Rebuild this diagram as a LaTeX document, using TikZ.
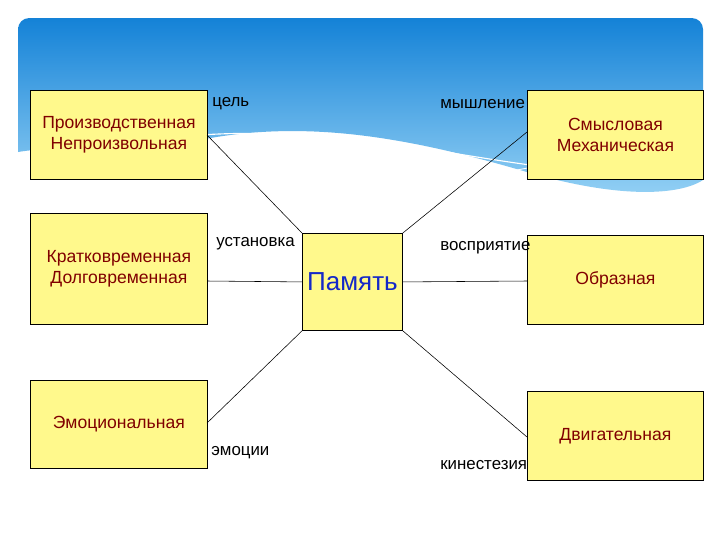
\documentclass[tikz,border=0pt]{standalone}
\usepackage{fontspec}
\setmainfont{Liberation Sans}
\begin{document}
\begin{tikzpicture}[x=0.025cm,y=-0.025cm,
  box/.style={draw=black,fill=yellow!45,line width=0.6pt,anchor=north west,inner sep=0pt,align=center,text=red!50!black,font=\fontsize{12.5}{14.5}\selectfont},
  lbl/.style={font=\fontsize{12}{13}\selectfont,text=black,inner sep=0pt},
  conn/.style={draw=black,line width=0.4pt}]
\useasboundingbox (0,0) rectangle (720,540);
\fill[white] (0,0) rectangle (720,540);
\shade[top color={rgb,255:red,20;green,130;blue,215},bottom color={rgb,255:red,150;green,210;blue,245}]
  (18,152) [rounded corners=8] -- (18,18) -- (703,18) [sharp corners] -- (703,180) .. controls (680,195) and (620,200) .. (520,170)
  .. controls (400,135) and (300,120) .. (200,140) .. controls (120,150) and (60,145) .. (18,152) -- cycle;
\draw[white,line width=0.8pt] (150,140) .. controls (300,120) and (420,150) .. (530,165) .. controls (600,175) and (650,180) .. (703,178);
\draw[white,line width=0.6pt] (450,185) .. controls (550,160) and (630,150) .. (703,160);
\node[box,text width=177*0.025cm,minimum height=89*0.025cm] (l1) at (30,90) {Производственная\\Непроизвольная};
\node[box,text width=177*0.025cm,minimum height=111*0.025cm] (l2) at (30,213) {Кратковременная\\Долговременная};
\node[box,text width=177*0.025cm,minimum height=88*0.025cm] (l3) at (30,380) {Эмоциональная};
\node[box,text width=100*0.025cm,minimum height=97*0.025cm,text={rgb,255:red,20;green,40;blue,200},font=\fontsize{18.5}{20}\selectfont] (c) at (302,233) {Память};
\node[box,text width=176*0.025cm,minimum height=89*0.025cm] (r1) at (527,90) {Смысловая\\Механическая};
\node[box,text width=176*0.025cm,minimum height=89*0.025cm] (r2) at (527,235) {Образная};
\node[box,text width=176*0.025cm,minimum height=89*0.025cm] (r3) at (527,391) {Двигательная};
\coordinate (a1) at (207,135); \coordinate (b1) at (527,132);
\coordinate (a2) at (207,281); \coordinate (b2) at (527,281);
\coordinate (a3) at (207,423); \coordinate (b3) at (527,437);
\draw[conn] (a1) -- (c.north west);
\draw[conn] (a2) -- (c.west);
\draw[conn] (a3) -- (c.south west);
\draw[conn] (b1) -- (c.north east);
\draw[conn] (b2) -- (c.east);
\draw[conn] (b3) -- (c.south east);
\node[lbl,anchor=west] (t1) at (212,104) {цель};
\node[lbl,anchor=west] (t2) at (440,104) {мышление};
\node[lbl,anchor=west] (t3) at (216,244) {установка};
\node[lbl,anchor=west] (t4) at (440,248) {восприятие};
\node[lbl,anchor=west] (t5) at (211,453) {эмоции};
\node[lbl,anchor=west] (t6) at (440,465) {кинестезия};
\end{tikzpicture}
\end{document}
